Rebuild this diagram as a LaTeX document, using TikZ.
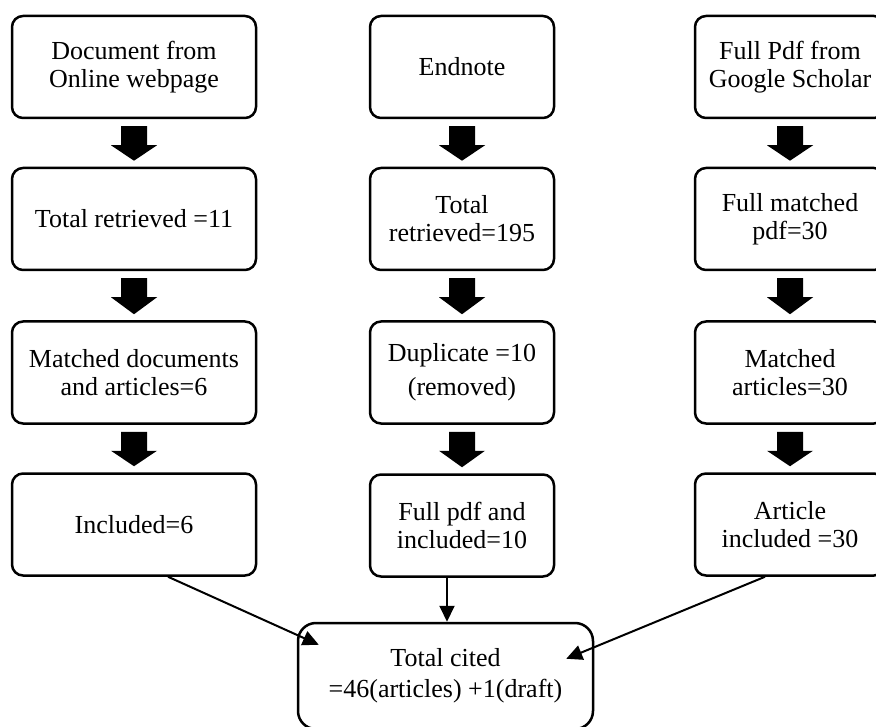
\documentclass[tikz,border=0pt]{standalone}
\usepackage{fontspec}
\setmainfont{Liberation Serif}
\usetikzlibrary{arrows.meta,calc}
\begin{document}
\begin{tikzpicture}[x=1pt,y=-1pt,
 box/.style={draw, line width=2.5pt, rounded corners=11pt, minimum height=102pt, align=center, inner sep=0pt, font=\fontsize{26}{28}\selectfont},
 lbox/.style={box, minimum width=244pt},
 mbox/.style={box, minimum width=184pt},
 rbox/.style={box, minimum width=190pt},
 conn/.style={line width=2pt, -{Triangle[length=16pt,width=15pt]}}
]
\clip (0,0) rectangle (876,727);
\fill[white] (0,0) rectangle (876,727);

% left column
\node[lbox] (l1) at (134,67) {Document from\\Online webpage};
\node[lbox] (l2) at (134,219) {Total retrieved =11};
\node[lbox] (l3) at (134,372.5) {Matched documents\\and articles=6};
\node[lbox] (l4) at (134,524.5) {Included=6};

% middle column
\node[mbox] (m1) at (462,67) {Endnote};
\node[mbox] (m2) at (462,219) {Total\\retrieved=195};
\node[mbox] (m3) at (462,372.5) {Duplicate =10\\[6pt](removed)};
\node[mbox] (m4) at (462,525.5) {Full pdf and\\included=10};

% right column
\node[rbox] (r1) at (790,67) {Full Pdf from\\Google Scholar};
\node[rbox] (r2) at (790,219) {Full matched\\pdf=30};
\node[rbox] (r3) at (790,372.5) {Matched\\articles=30};
\node[rbox] (r4) at (790,524.5) {Article\\included =30};

% bottom
\node[box, rounded corners=18pt, minimum width=295pt, minimum height=106pt] (b) at (445.5,676) {Total cited\\[3pt]=46(articles) +1(draft)};

% block arrows
\foreach \a/\b in {l1/l2,l2/l3,l3/l4,m1/m2,m2/m3,m3/m4,r1/r2,r2/r3,r3/r4}{
  \fill ($(\a.south)+(-13,7)$) -- ($(\a.south)+(13,7)$) -- ($(\a.south)+(13,26)$)
    -- ($(\a.south)+(23,26)$) -- ($(\b.north)+(0,-6)$) -- ($(\a.south)+(-23,26)$)
    -- ($(\a.south)+(-13,26)$) -- cycle;
}

% connectors
\draw[conn] ($(l4.south)+(34,0)$) -- ($(b.north west)+(22,23)$);
\draw[conn] ($(m4.south)+(-15,0)$) -- ($(b.north)+(1.5,0)$);
\draw[conn] ($(r4.south)+(-25,0)$) -- ($(b.north east)+(-28,37)$);
\end{tikzpicture}
\end{document}
